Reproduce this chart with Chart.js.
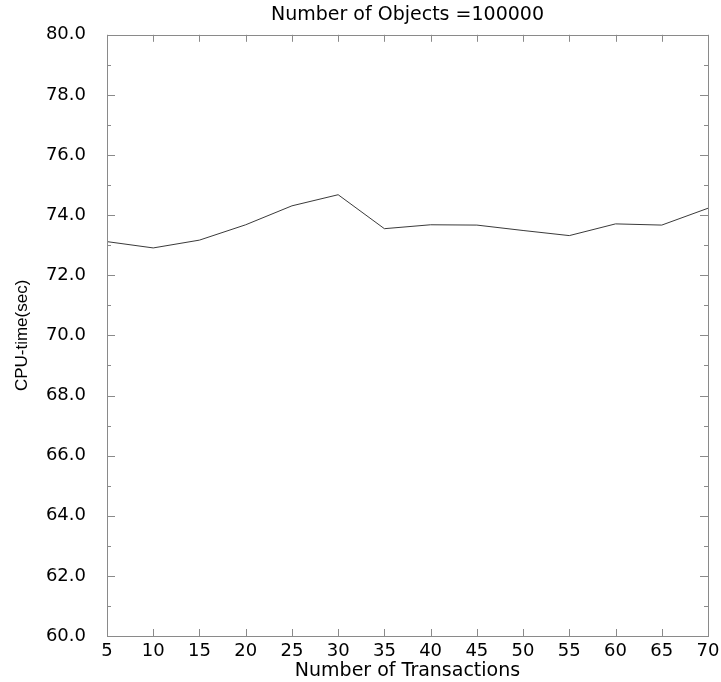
<!DOCTYPE html>
<html>
<head>
<meta charset="utf-8">
<script src="https://cdn.jsdelivr.net/npm/chart.js@4.4.0/dist/chart.umd.min.js"></script>
<style>
  html, body { margin: 0; padding: 0; background: #fff; }
  #wrap { width: 721px; height: 682px; }
</style>
</head>
<body>
<div id="wrap"><canvas id="myChart" width="721" height="682"></canvas></div>
<script>
// values
var transactions = [5, 10, 15, 20, 25, 30, 35, 40, 45, 50, 55, 60, 65, 70];
var cpuTime = [73.12, 72.91, 73.17, 73.68, 74.31, 74.68, 73.55, 73.68, 73.67, 73.49, 73.32, 73.71, 73.67, 74.23];

var chartTitle = 'Number of Objects =100000';
var xTitle = 'Number of Transactions';
var yTitle = 'CPU-time(sec)';

var frameColor = '#8a8a8a';

// box around the plot plus inward tick marks, like the original plot
var framePlugin = {
    id: 'frame',
    afterDraw: function(chart) {
        var ctx = chart.ctx;
        var a = chart.chartArea;
        var xs = chart.scales.x, ys = chart.scales.y;
        ctx.save();
        ctx.strokeStyle = frameColor;
        ctx.lineWidth = 1;
        ctx.strokeRect(Math.round(a.left) + 0.5, Math.round(a.top) + 0.5,
            Math.round(a.right - a.left), Math.round(a.bottom - a.top));

        ctx.beginPath();
        // x ticks, bottom and top
        xs.ticks.forEach(function(t) {
            var px = Math.round(xs.getPixelForValue(t.value)) + 0.5;
            ctx.moveTo(px, a.bottom); ctx.lineTo(px, a.bottom - 7);
            ctx.moveTo(px, a.top); ctx.lineTo(px, a.top + 7);
        });
        // y major ticks, left and right
        ys.ticks.forEach(function(t, i) {
            var py = Math.round(ys.getPixelForValue(t.value)) + 0.5;
            ctx.moveTo(a.left, py); ctx.lineTo(a.left + 8, py);
            ctx.moveTo(a.right, py); ctx.lineTo(a.right - 8, py);
            // minor tick halfway to next major
            if (i < ys.ticks.length - 1) {
                var mid = (t.value + ys.ticks[i + 1].value) / 2;
                var pm = Math.round(ys.getPixelForValue(mid)) + 0.5;
                ctx.moveTo(a.left, pm); ctx.lineTo(a.left + 4, pm);
                ctx.moveTo(a.right, pm); ctx.lineTo(a.right - 4, pm);
            }
        });
        ctx.stroke();
        ctx.restore();
    }
};

function createChart() {
    var ctx = document.getElementById('myChart').getContext('2d');
    new Chart(ctx, {
        type: 'line',
        data: {
            datasets: [{
                data: transactions.map(function(x, i) { return { x: x, y: cpuTime[i] }; }),
                borderColor: '#3a3a3a',
                borderWidth: 1,
                pointRadius: 0,
                tension: 0,
                fill: false
            }]
        },
        options: {
            responsive: false,
            animation: false,
            layout: { padding: { left: 0, right: 13, top: 0, bottom: 0 } },
            plugins: {
                legend: { display: false },
                tooltip: { enabled: false },
                title: {
                    display: true,
                    text: chartTitle,
                    fullSize: false,
                    color: '#000',
                    font: { family: 'DejaVu Sans', size: 19, weight: 'normal' },
                    padding: { top: 4, bottom: 8 }
                }
            },
            scales: {
                x: {
                    type: 'linear',
                    min: 5,
                    max: 70,
                    afterFit: function(s) { s.height = 46; },
                    grid: { display: false },
                    border: { display: false },
                    ticks: {
                        stepSize: 5,
                        autoSkip: false,
                        maxRotation: 0,
                        padding: -3,
                        color: '#000',
                        font: { family: 'DejaVu Sans', size: 18 }
                    },
                    title: {
                        display: true,
                        text: xTitle,
                        color: '#000',
                        font: { family: 'DejaVu Sans', size: 19 },
                        padding: { top: 0, bottom: 0 }
                    }
                },
                y: {
                    min: 60,
                    max: 80,
                    afterFit: function(s) { s.width = 107; },
                    grid: { display: false },
                    border: { display: false },
                    ticks: {
                        stepSize: 2,
                        padding: 13,
                        color: '#000',
                        font: { family: 'DejaVu Sans', size: 18 },
                        callback: function(v) { return v.toFixed(1); }
                    },
                    title: {
                        display: true,
                        text: yTitle,
                        color: '#000',
                        font: { family: 'Liberation Sans', size: 17 },
                        padding: { top: 12, bottom: 0 }
                    }
                }
            }
        },
        plugins: [framePlugin]
    });
}

document.addEventListener('DOMContentLoaded', function() {
    createChart();
});
</script>
</body>
</html>
